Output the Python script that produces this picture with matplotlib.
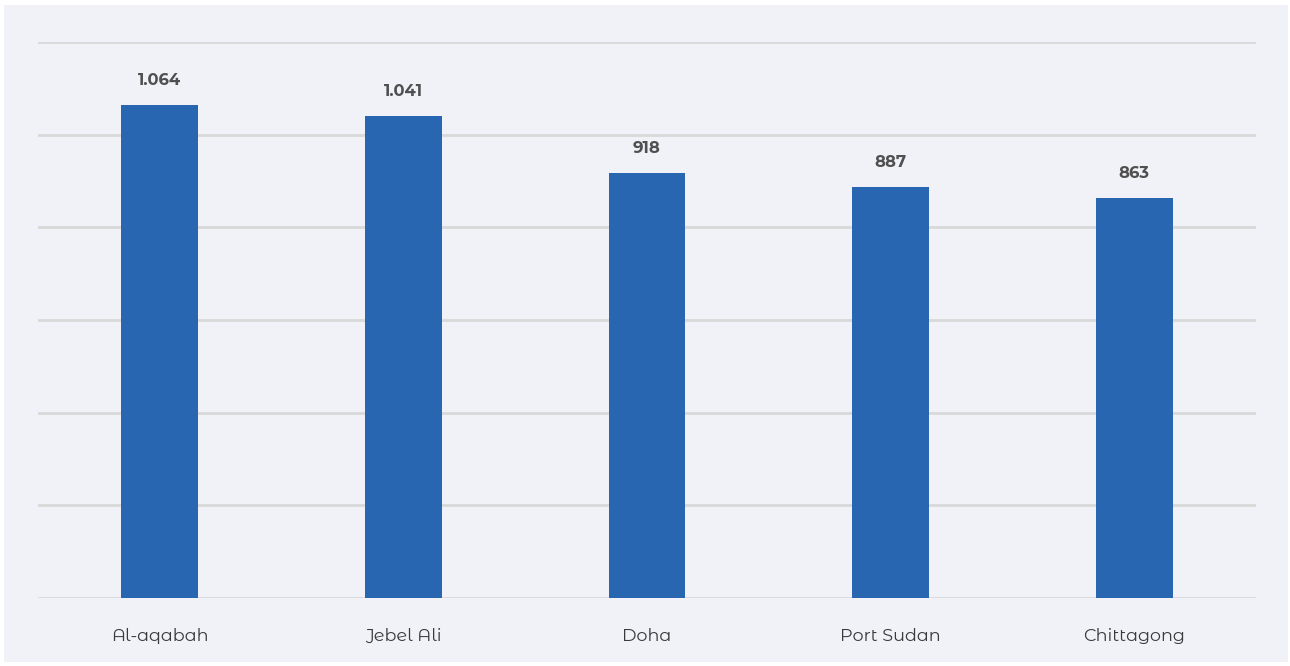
import matplotlib.pyplot as plt
from matplotlib.patches import Rectangle

ports = ["Al-aqabah", "Jebel Ali", "Doha", "Port Sudan", "Chittagong"]
values = [1064, 1041, 918, 887, 863]
value_labels = ["1.064", "1.041", "918", "887", "863"]

plt.rcParams['font.family'] = ['Montserrat Alternates', 'Lato', 'DejaVu Sans']

W, H = 1290, 666
fig = plt.figure(figsize=(W / 100, H / 100), dpi=100, facecolor='white')

# light panel behind the chart
fig.patches.append(Rectangle((4 / W, 4 / H), 1284 / W, 657 / H, transform=fig.transFigure,
                             facecolor='#f1f2f8', edgecolor='none', zorder=-10))

ax = fig.add_axes([38 / W, 1 - 598 / H, 1218 / W, (598 - 42) / H])
ax.set_facecolor('none')
ax.set_zorder(5)

x = range(len(ports))
ax.bar(x, values, width=0.315, color='#2866b1', zorder=3)
for xi, v, lab in zip(x, values, value_labels):
    ax.annotate(lab, (xi, v), xytext=(0, 12), textcoords='offset points',
                ha='center', va='bottom', fontsize=11.8, fontweight='bold', color='#505050')

ax.set_xlim(-0.5, len(ports) - 0.5)
ax.set_ylim(0, 1200)
ax.set_yticks(range(0, 1201, 200))
ax.yaxis.grid(True, color='#d9d9d9', linewidth=2)
ax.set_axisbelow(True)
ax.tick_params(axis='y', left=False, labelleft=False)
ax.tick_params(axis='x', bottom=False, pad=18)
ax.set_xticks(list(x))
ax.set_xticklabels(ports, fontsize=12.7, color='#3a3a3a')
for s in ax.spines.values():
    s.set_visible(False)

fig.savefig('out.png', dpi=100, facecolor='white')
